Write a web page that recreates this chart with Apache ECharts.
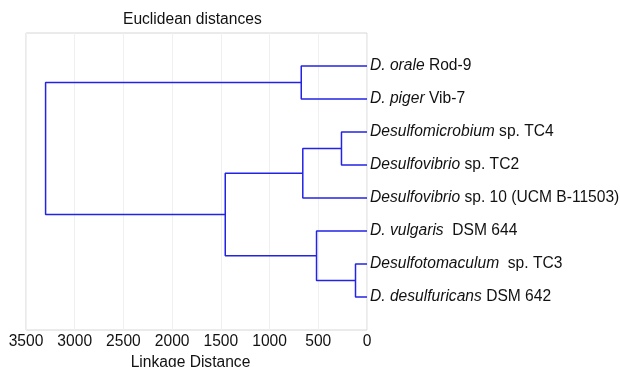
<!DOCTYPE html>
<html lang="en">
<head>
    <meta charset="utf-8">
    <title>Euclidean distances</title>
    <script src="https://cdn.jsdelivr.net/npm/echarts@6/dist/echarts.min.js"></script>
    <style type="text/css">
    html, body { margin: 0; padding: 0; background: #fff; }
    #chart { width: 620px; height: 367px; }
    </style>
</head>
<body>
    <div id="chart"></div>
    <script type="text/javascript">
    // leaves, top to bottom (italic genus part + plain strain part)
    var leafGenus = ['D. orale', 'D. piger', 'Desulfomicrobium', 'Desulfovibrio',
        'Desulfovibrio', 'D. vulgaris', 'Desulfotomaculum', 'D. desulfuricans'];
    var leafStrain = ['Rod-9', 'Vib-7', 'sp. TC4', 'sp. TC2',
        'sp. 10 (UCM B-11503)', ' DSM 644', ' sp. TC3', 'DSM 642'];

    // merges: node 8 is the first merge, 9 the second, ...
    var mergeLeft = [0, 2, 9, 6, 5, 10, 8];
    var mergeRight = [1, 3, 4, 7, 11, 12, 13];
    var mergeHeight = [675, 262, 659, 118, 518, 1455, 3299];

    var xTicks = [0, 500, 1000, 1500, 2000, 2500, 3000, 3500];

    var nLeaf = leafGenus.length;
    var nodeY = [], nodeH = [];
    for (var i = 0; i < nLeaf; i++) {
        nodeY.push(i + 1);
        nodeH.push(0);
    }
    var series = [];
    for (var m = 0; m < mergeHeight.length; m++) {
        var a = mergeLeft[m], b = mergeRight[m], h = mergeHeight[m];
        nodeY.push((nodeY[a] + nodeY[b]) / 2);
        nodeH.push(h);
        series.push({
            type: 'line',
            symbol: 'none',
            silent: true,
            lineStyle: { color: '#2323e6', width: 1.5 },
            data: [[nodeH[a], nodeY[a]], [h, nodeY[a]], [h, nodeY[b]], [nodeH[b], nodeY[b]]]
        });
    }

    var fs = 15.6;
    var ink = '#111';
    var chart = echarts.init(document.getElementById('chart'), null, { renderer: 'canvas' });
    chart.setOption({
        animation: false,
        textStyle: { fontFamily: 'Liberation Sans, Arial, sans-serif' },
        title: {
            text: 'Euclidean distances',
            left: 123,
            top: 12,
            padding: 0,
            textStyle: { fontSize: fs, fontWeight: 'normal', color: ink }
        },
        grid: {
            left: 26, right: 253, top: 33, bottom: 37,
            outerBoundsMode: 'none',
            containLabel: false,
            show: true, borderColor: '#d6d6d6', borderWidth: 1
        },
        xAxis: {
            type: 'value',
            inverse: true,
            min: xTicks[0],
            max: xTicks[xTicks.length - 1],
            interval: 500,
            name: 'Linkage Distance',
            nameLocation: 'middle',
            nameGap: 21,
            nameTextStyle: { fontSize: fs, color: ink, padding: [0, 12, 0, 0] },
            axisLine: { show: false },
            axisTick: { show: false },
            axisLabel: {
                fontSize: fs, color: ink, margin: 4,
                formatter: function (v) { return String(v); }
            },
            splitLine: { show: true, lineStyle: { color: '#f0f0f0', width: 1 } }
        },
        yAxis: {
            type: 'value',
            position: 'right',
            inverse: true,
            min: 0,
            max: nLeaf + 1,
            interval: 1,
            axisLine: { show: false },
            axisTick: { show: false },
            splitLine: { show: false },
            axisLabel: {
                margin: 3,
                fontSize: fs,
                color: ink,
                formatter: function (v) {
                    var k = Math.round(v) - 1;
                    if (k < 0 || k >= nLeaf) return '';
                    return '{i|' + leafGenus[k] + '} ' + leafStrain[k];
                },
                rich: {
                    i: { fontStyle: 'italic', fontSize: fs, color: ink }
                }
            }
        },
        series: series
    });
    </script>
</body>
</html>
